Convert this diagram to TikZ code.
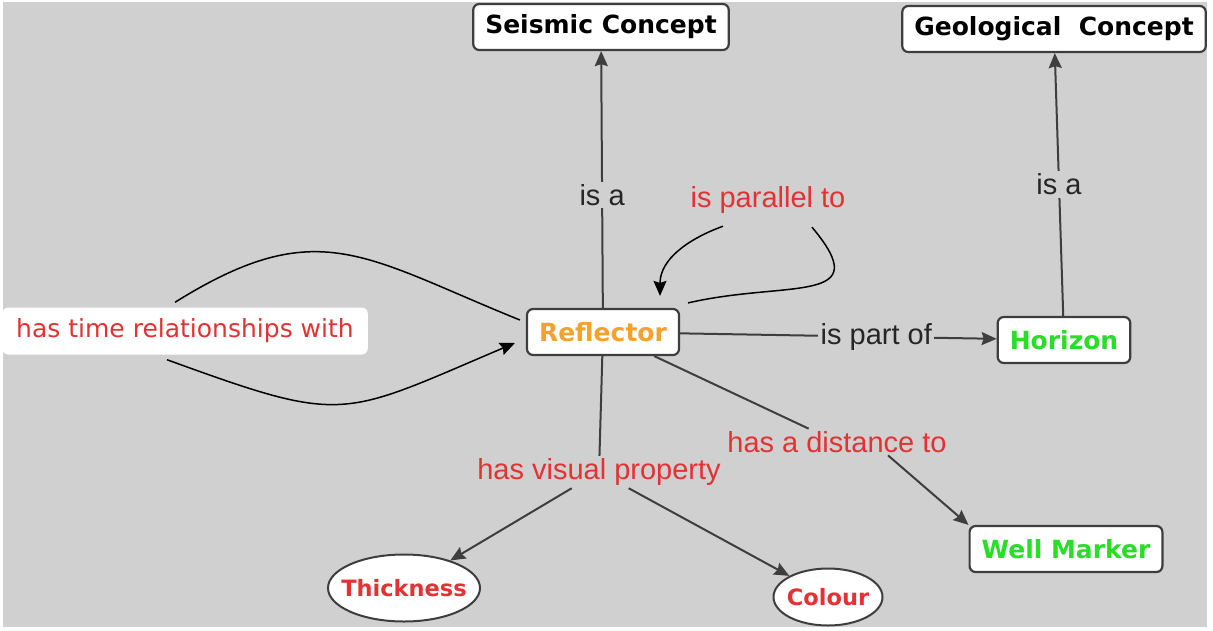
\documentclass[tikz,border=0pt]{standalone}
\usepackage{fontspec}
\setmainfont{Liberation Sans}
\newfontfamily\conceptfont{DejaVu Sans}
\usetikzlibrary{arrows.meta, shapes.geometric}

\definecolor{mapgray}{RGB}{208,208,208}
\definecolor{linkred}{RGB}{228,50,50}
\definecolor{reforange}{RGB}{245,162,45}
\definecolor{mapgreen}{RGB}{40,222,40}
\definecolor{edgegray}{RGB}{62,62,62}

\begin{document}
\begin{tikzpicture}[x=1pt,y=1pt,>={Stealth[length=15pt,width=13pt,inset=2pt]},
	concept/.style={rectangle, rounded corners=6pt, draw=edgegray, line width=2.2pt, fill=white, minimum height=46pt, inner xsep=12pt, font=\conceptfont\bfseries\fontsize{25}{30}\selectfont},
	property/.style={ellipse, draw=edgegray, line width=2pt, fill=white, inner sep=0pt, text=linkred, font=\conceptfont\bfseries\fontsize{22.5}{27}\selectfont},
	phrase/.style={fill=mapgray, inner sep=2.5pt, text=linkred, font=\fontsize{29}{34}\selectfont},
	darkphrase/.style={phrase, text=black!85}]
		\useasboundingbox (0,0) rectangle (1213,-630);
		\fill[white] (0,0) rectangle (1213,-630);
		\fill[mapgray] (3,-2) rectangle (1207,-627);

		\node[concept						] at (601,-27)	(SEISMIC)		{Seismic Concept};
		\node[concept						] at (1054,-29)	(GEOLOGICAL)	{Geological~~Concept};
		\node[concept, text=reforange		] at (603,-332)	(REFLECTOR)		{Reflector};
		\node[concept, text=mapgreen		] at (1064,-340)	(HORIZON)		{Horizon};
		\node[concept, text=mapgreen		] at (1066,-549)	(WELL_MARKER)	{Well Marker};
		\node[property, minimum width=152pt, minimum height=67pt] at (404,-588) (THICKNESS) {\makebox[0pt]{Thickness}};
		\node[property, minimum width=109pt, minimum height=57pt] at (828,-597) (COLOUR) {\makebox[0pt]{Colour}};

		\node[phrase, fill=white, rounded corners=6pt, inner xsep=14pt, minimum height=47pt, font=\conceptfont\fontsize{25}{30}\selectfont] at (185,-331) (HAS_TIME) {has time relationships with};
		\node[phrase						] at (768,-200)	(IS_PARALLEL)	{is parallel to};
		\node[phrase						] at (837,-442)	(HAS_DISTANCE)	{has a distance to};
		\node[phrase						] at (599,-472)	(HAS_VISUAL)	{has visual property};

		\draw[edgegray, line width=2pt]
				(REFLECTOR)		edge[->							]	node[darkphrase, pos=0.44]{is a}		(SEISMIC)
				(HORIZON)		edge[->							]	node[darkphrase]{is a}		(GEOLOGICAL)
				(REFLECTOR)		edge[->							]	node[darkphrase, pos=0.62]{is part of}		(HORIZON)
				(REFLECTOR)		edge[							]					(HAS_DISTANCE)
				([xshift=51pt]HAS_DISTANCE.south)	edge[->	]		(WELL_MARKER.north west)
				(REFLECTOR)		edge[							]					(HAS_VISUAL)
				(HAS_VISUAL)	edge[->							]					(THICKNESS)
				(HAS_VISUAL)	edge[->							]					(COLOUR)
				;

		\draw[black, line width=1.5pt]
				([xshift=8pt,yshift=5pt]REFLECTOR.north east)	edge[out=13, in=-50, looseness=1.8]		([xshift=44pt,yshift=-11pt]IS_PARALLEL.south)
				([xshift=-45pt,yshift=-10pt]IS_PARALLEL.south)	edge[->, out=200, in=90]		([xshift=57pt,yshift=12pt]REFLECTOR.north)
				([xshift=-6pt,yshift=12pt]REFLECTOR.west)		edge[out=158, in=32, looseness=1.25]	([xshift=-10pt,yshift=5pt]HAS_TIME.north)
				([xshift=-18pt,yshift=-5pt]HAS_TIME.south)		edge[->, out=-20, in=-157, looseness=1.4]		([xshift=-11pt,yshift=-11pt]REFLECTOR.west)
				;
	\end{tikzpicture}
\end{document}
